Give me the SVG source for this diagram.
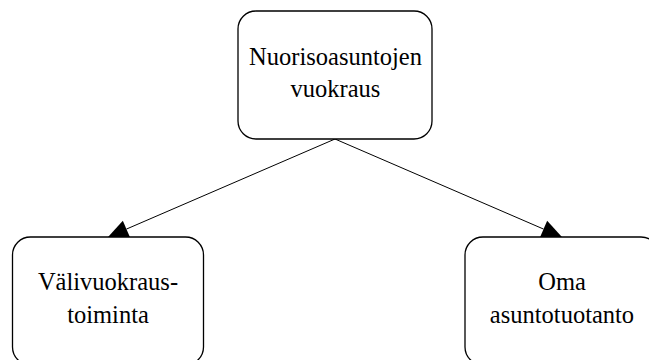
<svg xmlns="http://www.w3.org/2000/svg" width="649" height="360" viewBox="0 0 649 360">
<style>
.box{fill:#fff;stroke:#000;stroke-width:1.3}
.lbl{font-family:"Liberation Serif","Times New Roman",serif;font-size:24.5px;fill:#000;text-anchor:middle}
.edge{stroke:#000;stroke-width:1;fill:none}
</style>
<defs>
<marker id="arr" markerUnits="userSpaceOnUse" viewBox="0 -9 20 18" refX="0" refY="0" markerWidth="20" markerHeight="18" orient="auto" overflow="visible">
<path d="M0,-9 L20,0 L0,9 z" fill="#000"/>
</marker>
</defs>
<rect width="649" height="360" fill="#fff"/>
<g id="connectors">
<line class="edge" x1="335" y1="139" x2="126.4" y2="229.1" marker-end="url(#arr)"/>
<line class="edge" x1="335" y1="139" x2="543.6" y2="229.1" marker-end="url(#arr)"/>
</g>
<g id="node-top">
<rect class="box" x="238" y="11" width="194" height="128" rx="18" ry="18"/>
<text class="lbl" x="335.5" y="65">Nuorisoasuntojen</text>
<text class="lbl" x="335.5" y="97">vuokraus</text>
</g>
<g id="node-left">
<rect class="box" x="12.5" y="237" width="191" height="128" rx="18" ry="18"/>
<text class="lbl" x="108" y="290">Välivuokraus-</text>
<text class="lbl" x="108" y="323">toiminta</text>
</g>
<g id="node-right">
<rect class="box" x="465" y="237" width="194" height="128" rx="18" ry="18"/>
<text class="lbl" x="562" y="290">Oma</text>
<text class="lbl" x="562" y="323">asuntotuotanto</text>
</g>
</svg>
